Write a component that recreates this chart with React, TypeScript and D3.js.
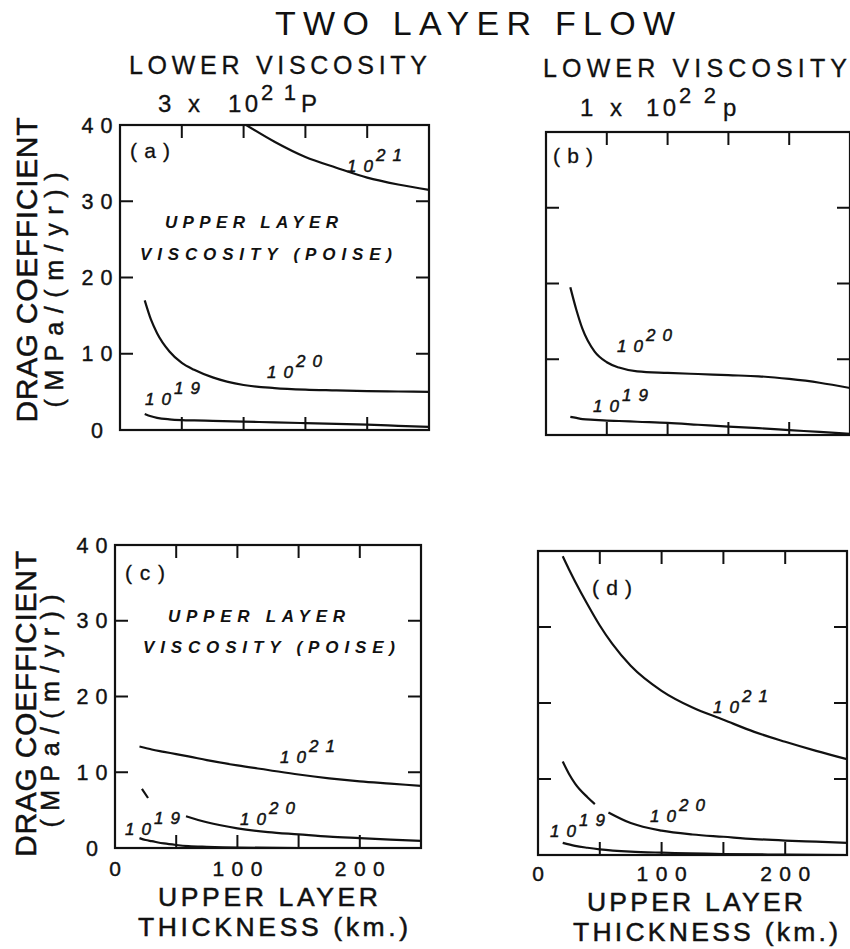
import React from "react";
import * as d3 from "d3";

// ---------- data ----------
const thicknessTicks = [50, 100, 150, 200];
const dragTicks = [10, 20, 30];
const dragTickLabels = [0, 10, 20, 30, 40];
const thicknessTickLabels = [0, 100, 200];

// panel (a): lower viscosity 3e21 P
const a21X = [100, 125, 150, 175, 200, 225, 250];
const a21Y = [40.2, 37.8, 35.8, 34.4, 33.1, 32.2, 31.5];
const a20X = [20, 25, 30, 40, 50, 60, 75, 100, 125, 150, 175, 200, 225, 250];
const a20Y = [17, 14.5, 12.7, 10.3, 8.8, 7.9, 6.9, 5.9, 5.5, 5.3, 5.2, 5.1, 5.05, 5.0];
const a19X = [20, 25, 30, 40, 50, 60, 75, 100, 125, 150, 175, 200, 225, 250];
const a19Y = [2.1, 1.8, 1.6, 1.4, 1.3, 1.25, 1.2, 1.1, 1.0, 0.9, 0.8, 0.7, 0.55, 0.4];

// panel (b): lower viscosity 1e22 P
const b20X = [20, 25, 30, 40, 50, 60, 75, 100, 125, 150, 175, 200, 225, 250];
const b20Y = [19.5, 16.5, 14.0, 11.0, 9.6, 8.9, 8.4, 8.2, 8.05, 7.9, 7.75, 7.4, 6.9, 6.2];
const b19X = [20, 25, 30, 40, 50, 60, 75, 100, 125, 150, 175, 200, 225, 250];
const b19Y = [2.4, 2.25, 2.1, 2.0, 1.9, 1.85, 1.75, 1.6, 1.35, 1.1, 0.9, 0.65, 0.4, 0.15];

// panel (c)
const c21X = [20, 25, 30, 40, 50, 60, 75, 100, 125, 150, 175, 200, 225, 250];
const c21Y = [13.4, 13.2, 13.0, 12.7, 12.4, 12.1, 11.6, 10.9, 10.3, 9.7, 9.2, 8.8, 8.5, 8.2];
const c20X = [22, 27, 40, 58, 75, 100, 125, 150, 175, 200, 225, 250];
const c20Y = [7.8, 6.6, null, 4.2, 3.4, 2.6, 2.1, 1.8, 1.5, 1.3, 1.1, 0.95];
const c19X = [20, 25, 30, 40, 50, 60, 75, 100, 150, 200, 250];
const c19Y = [1.3, 1.05, 0.9, 0.6, 0.4, 0.25, 0.15, 0.05, 0.0, 0.0, 0.0];

// panel (d)
const d21X = [20, 25, 30, 40, 50, 60, 75, 100, 125, 150, 175, 200, 225, 250];
const d21Y = [39.3, 37.6, 36.0, 33.0, 30.2, 27.8, 24.9, 21.6, 19.4, 17.8, 16.2, 14.9, 13.7, 12.6];
const d20X = [20, 25, 30, 40, 46, 52, 57, 75, 100, 125, 150, 175, 200, 225, 250];
const d20Y = [12.3, 10.7, 9.4, 7.6, 6.7, null, 5.6, 4.2, 3.2, 2.7, 2.4, 2.1, 1.9, 1.75, 1.6];
const d19X = [20, 30, 40, 50, 75, 100, 150, 200, 250];
const d19Y = [1.6, 1.2, 0.95, 0.75, 0.45, 0.3, 0.12, 0.05, 0.0];

const titleText = "TWO LAYER FLOW";
const lowerLabel = "LOWER VISCOSITY";
const yTitle1 = "DRAG COEFFICIENT";
const yTitle2 = "(MPa/(m/yr))";
const xTitle1 = "UPPER LAYER";
const xTitle2 = "THICKNESS (km.)";
const legendLine1 = "UPPER LAYER";
const legendLine2 = "VISCOSITY (POISE)";

type Series = { xs: number[]; ys: (number | null)[]; base: string; exp: string; lx: number; ly: number };

const FONT = "'Liberation Sans', Arial, Helvetica, sans-serif";
const INK = "#111";

const panels = [
  {
    id: "(a)", x0: 120, x1: 429, yb: 430, yt: 125, letter: [130, 158], leftLabels: true, bottomLabels: false,
    yLabelX: 97, xLabelDy: 0, legend: { x1: 165, y1: 228, w1: 173, x2: 140, y2: 260, w2: 252 },
    series: [
      { xs: a21X, ys: a21Y, base: "10", exp: "21", lx: 347, ly: 172 },
      { xs: a20X, ys: a20Y, base: "10", exp: "20", lx: 267, ly: 378 },
      { xs: a19X, ys: a19Y, base: "10", exp: "19", lx: 145, ly: 405 },
    ] as Series[],
  },
  {
    id: "(b)", x0: 546, x1: 850, yb: 435, yt: 132, letter: [553, 163], leftLabels: false, bottomLabels: false,
    yLabelX: 0, xLabelDy: 0, legend: null,
    series: [
      { xs: b20X, ys: b20Y, base: "10", exp: "20", lx: 617, ly: 352 },
      { xs: b19X, ys: b19Y, base: "10", exp: "19", lx: 593, ly: 412 },
    ] as Series[],
  },
  {
    id: "(c)", x0: 115, x1: 421, yb: 848, yt: 545, letter: [125, 580], leftLabels: true, bottomLabels: true,
    yLabelX: 92, xLabelDy: 28, legend: { x1: 168, y1: 622, w1: 177, x2: 143, y2: 653, w2: 252 },
    series: [
      { xs: c21X, ys: c21Y, base: "10", exp: "21", lx: 280, ly: 763 },
      { xs: c20X, ys: c20Y, base: "10", exp: "20", lx: 240, ly: 825 },
      { xs: c19X, ys: c19Y, base: "10", exp: "19", lx: 125, ly: 835 },
    ] as Series[],
  },
  {
    id: "(d)", x0: 538, x1: 847, yb: 855, yt: 551, letter: [592, 595], leftLabels: false, bottomLabels: true,
    yLabelX: 0, xLabelDy: 26, legend: null,
    series: [
      { xs: d21X, ys: d21Y, base: "10", exp: "21", lx: 713, ly: 713 },
      { xs: d20X, ys: d20Y, base: "10", exp: "20", lx: 650, ly: 822 },
      { xs: d19X, ys: d19Y, base: "10", exp: "19", lx: 550, ly: 837 },
    ] as Series[],
  },
];

const TICK = 13;

function Panel({ p, idx }: { p: (typeof panels)[number]; idx: number }) {
  const x = d3.scaleLinear().domain([0, 250]).range([p.x0, p.x1]);
  const y = d3.scaleLinear().domain([0, 40]).range([p.yb, p.yt]);
  const line = d3
    .line<[number, number | null]>()
    .defined((d) => d[1] != null)
    .x((d) => x(d[0]))
    .y((d) => y(d[1] as number))
    .curve(d3.curveMonotoneX);
  const clipId = `clip-${idx}`;
  return (
    <g>
      <defs>
        <clipPath id={clipId}>
          <rect x={p.x0} y={p.yt} width={p.x1 - p.x0} height={p.yb - p.yt} />
        </clipPath>
      </defs>
      <rect x={p.x0} y={p.yt} width={p.x1 - p.x0} height={p.yb - p.yt} fill="none" stroke={INK} strokeWidth={2.2} />
      {thicknessTicks.map((t) => (
        <g key={"xt" + t}>
          <line x1={x(t)} x2={x(t)} y1={p.yt} y2={p.yt + TICK} stroke={INK} strokeWidth={2} />
          <line x1={x(t)} x2={x(t)} y1={p.yb} y2={p.yb - TICK} stroke={INK} strokeWidth={2} />
        </g>
      ))}
      {dragTicks.map((t) => (
        <g key={"yt" + t}>
          <line x1={p.x0} x2={p.x0 + TICK} y1={y(t)} y2={y(t)} stroke={INK} strokeWidth={2} />
          <line x1={p.x1} x2={p.x1 - TICK} y1={y(t)} y2={y(t)} stroke={INK} strokeWidth={2} />
        </g>
      ))}
      {p.leftLabels &&
        dragTickLabels.map((t) => (
          <text key={"yl" + t} x={p.yLabelX} y={y(t)} dy="0.36em" textAnchor="middle" fontSize={21.5}
            textLength={t >= 10 ? 31 : undefined} lengthAdjust="spacing" fill={INK} stroke={INK} strokeWidth={0.4}>
            {t}
          </text>
        ))}
      {p.bottomLabels &&
        thicknessTickLabels.map((t) => (
          <text key={"xl" + t} x={x(t)} y={p.yb + p.xLabelDy} textAnchor="middle" fontSize={21}
            textLength={t >= 100 ? 50 : undefined} lengthAdjust="spacing" fill={INK} stroke={INK} strokeWidth={0.4}>
            {t}
          </text>
        ))}
      <g clipPath={`url(#${clipId})`}>
        {p.series.map((s, i) => (
          <path key={i} d={line(s.xs.map((v, j) => [v, s.ys[j]] as [number, number | null])) || ""}
            fill="none" stroke={INK} strokeWidth={2.2} />
        ))}
      </g>
      {p.series.map((s, i) => (
        <g key={"lab" + i} fontStyle="italic" fontSize={17} fill={INK} stroke={INK} strokeWidth={0.5}>
          <text x={s.lx} y={s.ly} textLength={26} lengthAdjust="spacing">{s.base}</text>
          <text x={s.lx + 29} y={s.ly - 11} textLength={26} lengthAdjust="spacing">{s.exp}</text>
        </g>
      ))}
      <text x={p.letter[0]} y={p.letter[1]} fontSize={21} textLength={40} lengthAdjust="spacing" fill={INK}
        stroke={INK} strokeWidth={0.3}>
        {p.id}
      </text>
      {p.legend && (
        <g fontStyle="italic" fontWeight="bold" fontSize={17} fill={INK}>
          <text x={p.legend.x1} y={p.legend.y1} textLength={p.legend.w1} lengthAdjust="spacing">{legendLine1}</text>
          <text x={p.legend.x2} y={p.legend.y2} textLength={p.legend.w2} lengthAdjust="spacing">{legendLine2}</text>
        </g>
      )}
    </g>
  );
}

export default function App() {
  return (
    <svg width={850} height={949} viewBox="0 0 850 949"
      style={{ position: "absolute", left: 0, top: 0, background: "#fff" }} fontFamily={FONT}>
      <rect x={0} y={0} width={850} height={949} fill="#fff" />
      <text x={275} y={35} fontSize={34} textLength={400} lengthAdjust="spacing" fill={INK}>{titleText}</text>
      <text x={129} y={74} fontSize={25} textLength={298} lengthAdjust="spacing" fill={INK} stroke={INK} strokeWidth={0.3}>{lowerLabel}</text>
      <text x={543} y={77} fontSize={25} textLength={304} lengthAdjust="spacing" fill={INK} stroke={INK} strokeWidth={0.3}>{lowerLabel}</text>
      {/* 3 x 10^21 P */}
      <g fill={INK} stroke={INK} strokeWidth={0.3}>
        <text x={158} y={112} fontSize={24}>3</text>
        <text x={188} y={112} fontSize={24}>x</text>
        <text x={228} y={112} fontSize={24} textLength={30} lengthAdjust="spacing">10</text>
        <text x={261} y={100} fontSize={22} textLength={35} lengthAdjust="spacing">21</text>
        <text x={301} y={112} fontSize={24}>P</text>
      </g>
      {/* 1 x 10^22 p */}
      <g fill={INK} stroke={INK} strokeWidth={0.3}>
        <text x={580} y={116} fontSize={24}>1</text>
        <text x={610} y={116} fontSize={24}>x</text>
        <text x={646} y={116} fontSize={24} textLength={30} lengthAdjust="spacing">10</text>
        <text x={679} y={103} fontSize={22} textLength={37} lengthAdjust="spacing">22</text>
        <text x={723} y={116} fontSize={24}>p</text>
      </g>
      {/* y-axis titles */}
      <g fill={INK} stroke={INK} strokeWidth={0.5}>
        <text transform="translate(37,270) rotate(-90)" textAnchor="middle" fontSize={30} textLength={305} lengthAdjust="spacing">{yTitle1}</text>
        <text transform="translate(63,290) rotate(-90)" textAnchor="middle" fontSize={25} textLength={235} lengthAdjust="spacing">{yTitle2}</text>
        <text transform="translate(36,704) rotate(-90)" textAnchor="middle" fontSize={30} textLength={306} lengthAdjust="spacing">{yTitle1}</text>
        <text transform="translate(59,711) rotate(-90)" textAnchor="middle" fontSize={25} textLength={233} lengthAdjust="spacing">{yTitle2}</text>
      </g>
      {/* x-axis titles */}
      <g fill={INK} fontSize={26.5} stroke={INK} strokeWidth={0.5}>
        <text x={158} y={906} textLength={220} lengthAdjust="spacing">{xTitle1}</text>
        <text x={138} y={936} textLength={270} lengthAdjust="spacing">{xTitle2}</text>
        <text x={587} y={911} textLength={216} lengthAdjust="spacing">{xTitle1}</text>
        <text x={573} y={941} textLength={265} lengthAdjust="spacing">{xTitle2}</text>
      </g>
      {panels.map((p, i) => (
        <Panel key={p.id} p={p} idx={i} />
      ))}
    </svg>
  );
}
